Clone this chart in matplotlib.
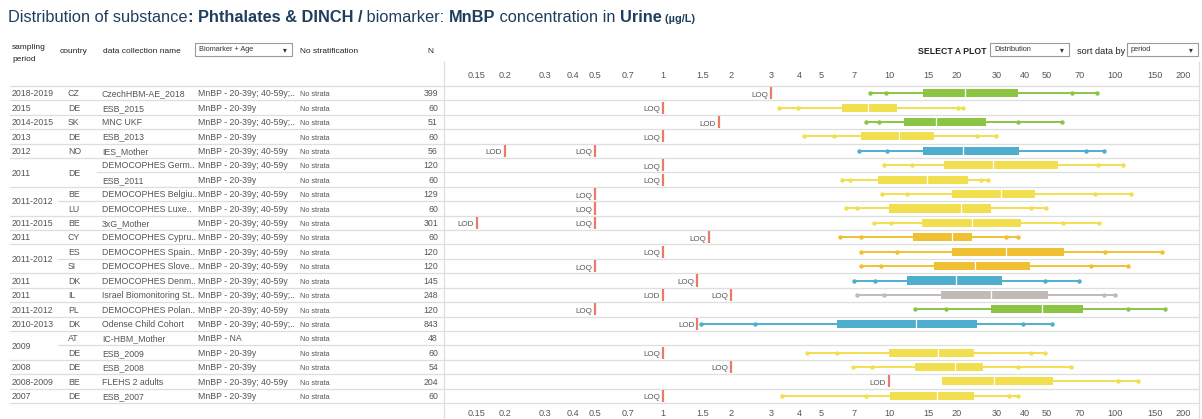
import numpy as np
import matplotlib
matplotlib.use("Agg")
import matplotlib.pyplot as plt
import matplotlib.transforms as mtransforms
from matplotlib.lines import Line2D
from matplotlib.patches import Rectangle
from matplotlib.ticker import NullLocator

# ---------------------------------------------------------------- data
period_groups = ["2018-2019", "2015", "2014-2015", "2013", "2012", "2011", "2011-2012",
                 "2011-2015", "2011", "2011-2012", "2011", "2011", "2011-2012",
                 "2010-2013", "2009", "2008", "2008-2009", "2007"]
period_spans = [1, 1, 1, 1, 1, 2, 2, 1, 1, 2, 1, 1, 1, 1, 2, 1, 1, 1]

country_groups = ["CZ", "DE", "SK", "DE", "NO", "DE", "BE", "LU", "BE", "CY", "ES", "SI",
                  "DK", "IL", "PL", "DK", "AT", "DE", "DE", "BE", "DE"]
country_spans = [1, 1, 1, 1, 1, 2, 1, 1, 1, 1, 1, 1, 1, 1, 1, 1, 1, 1, 1, 1, 1]

collections = ["CzechHBM-AE_2018", "ESB_2015", "MNC UKF", "ESB_2013", "IES_Mother",
               "DEMOCOPHES Germ..", "ESB_2011", "DEMOCOPHES Belgiu..", "DEMOCOPHES Luxe..",
               "3xG_Mother", "DEMOCOPHES Cypru..", "DEMOCOPHES Spain..", "DEMOCOPHES Slove..",
               "DEMOCOPHES Denm..", "Israel Biomonitoring St..", "DEMOCOPHES Polan..",
               "Odense Child Cohort", "IC-HBM_Mother", "ESB_2009", "ESB_2008",
               "FLEHS 2 adults", "ESB_2007"]

biomarker_age = ["MnBP - 20-39y; 40-59y;..", "MnBP - 20-39y", "MnBP - 20-39y; 40-59y;..",
                 "MnBP - 20-39y", "MnBP - 20-39y; 40-59y", "MnBP - 20-39y; 40-59y",
                 "MnBP - 20-39y", "MnBP - 20-39y; 40-59y", "MnBP - 20-39y; 40-59y",
                 "MnBP - 20-39y; 40-59y", "MnBP - 20-39y; 40-59y", "MnBP - 20-39y; 40-59y",
                 "MnBP - 20-39y; 40-59y", "MnBP - 20-39y; 40-59y", "MnBP - 20-39y; 40-59y;..",
                 "MnBP - 20-39y; 40-59y", "MnBP - 20-39y; 40-59y;..", "MnBP - NA",
                 "MnBP - 20-39y", "MnBP - 20-39y", "MnBP - 20-39y; 40-59y", "MnBP - 20-39y"]

strata = ["No strata"] * 22

n_samples = [399, 60, 51, 60, 56, 120, 60, 129, 60, 301, 60, 120, 120, 145, 248, 120,
             843, 48, 60, 54, 204, 60]

# European region of each study (drives the colour)
regions = ["E", "W", "E", "W", "N", "W", "W", "W", "W", "W", "S", "S", "S", "N", "O", "E",
           "N", "W", "W", "W", "W", "W"]

nan = np.nan
p05 = [8.2, 3.26, 7.9, 4.2, 7.4, 9.5, 6.2, 9.3, 6.45, 8.6, 6.1, 7.5, 7.5, 7.0, 7.2, 13.0,
       1.47, nan, 4.35, 6.9, nan, 3.35]
p10 = [9.7, 3.96, 9.0, 5.7, 9.8, 12.7, 6.7, 12.0, 7.2, 10.2, 7.5, 10.8, 9.2, 8.7, 9.5, 17.9,
       2.55, nan, 5.9, 8.4, nan, 7.9]
p25 = [14.2, 6.2, 11.7, 7.5, 14.2, 17.5, 8.9, 19.1, 10.0, 14.0, 12.8, 19.1, 15.8, 12.0, 17.0,
       28.2, 5.9, nan, 10.0, 13.0, 17.1, 10.1]
p50 = [21.8, 8.05, 16.1, 11.1, 21.2, 28.9, 14.8, 31.2, 20.8, 23.2, 19.1, 32.8, 24.1, 19.8,
       28.2, 47.4, 13.2, nan, 16.4, 19.6, 29.2, 16.3]
p75 = [37.3, 10.8, 26.8, 15.9, 37.7, 55.7, 22.4, 44.3, 28.2, 38.3, 23.2, 59.5, 42.1, 31.6,
       50.7, 72.4, 24.4, nan, 23.9, 26.1, 53.3, 23.9]
p90 = [64.7, 20.3, 37.3, 24.4, 74.4, 84.4, 25.5, 81.6, 42.4, 59.1, 33.1, 90.6, 78.0, 49.0,
       89.4, 114.6, 39.3, nan, 42.5, 37.3, 102.8, 34.0]
p95 = [83.0, 21.3, 58.1, 29.9, 89.4, 108.8, 27.3, 117.3, 49.4, 85.0, 37.1, 162.0, 114.6, 69.5,
       100.0, 166.0, 52.8, nan, 49.0, 63.9, 126.8, 37.3]

lod = [nan, nan, 1.77, nan, 0.2, nan, nan, nan, nan, 0.15, nan, nan, nan, nan, 1.0, nan,
       1.42, nan, nan, nan, 10.0, nan]
loq = [3.0, 1.0, nan, 1.0, 0.5, 1.0, 1.0, 0.5, 0.5, 0.5, 1.6, 1.0, 0.5, 1.42, 2.0, 0.5,
       nan, nan, 1.0, 2.0, nan, 1.0]

tick_values = [0.15, 0.2, 0.3, 0.4, 0.5, 0.7, 1, 1.5, 2, 3, 4, 5, 7, 10, 15, 20, 30, 40,
               50, 70, 100, 150, 200]
tick_labels = ["0.15", "0.2", "0.3", "0.4", "0.5", "0.7", "1", "1.5", "2", "3", "4", "5",
               "7", "10", "15", "20", "30", "40", "50", "70", "100", "150", "200"]

# ---------------------------------------------------------------- style
region_colors = {"W": "#f2df4f", "E": "#8cc444", "N": "#4faece", "S": "#efc132",
                 "O": "#c2bab6"}
limit_color = "#ec7a66"
grid_color = "#dedede"
text_color = "#555555"
head_color = "#222222"
title_color = "#1f3d5c"
FONT = ["Liberation Sans", "DejaVu Sans"]
plt.rcParams["font.family"] = FONT

W, H = 1202, 419
fig = plt.figure(figsize=(W / 100, H / 100), dpi=100)
fig.patch.set_facecolor("white")


def fx(px):
    return px / W


def fy(py):
    return 1 - py / H


# ---------------------------------------------------------------- chart axes
ax_l, ax_r, ax_t, ax_b = 444, 1199, 86, 403
ax = fig.add_axes([fx(ax_l), fy(ax_b), (ax_r - ax_l) / W, (ax_b - ax_t) / H])
ax.set_facecolor("none")
ax.set_xscale("log")
ax.set_xlim(0.1074, 235.4)
n_rows = len(collections)
ax.set_ylim(n_rows, 0)
ax.set_xticks(tick_values)
ax.set_xticklabels(tick_labels)
ax.xaxis.set_minor_locator(NullLocator())
ax.set_yticks([])
ax.tick_params(axis="x", length=0, labeltop=True, labelbottom=True, labelsize=6.6,
               colors=text_color, pad=4)
for s in ax.spines.values():
    s.set_visible(False)

box_h = 0.56
lim_h = 0.42
label_shift = mtransforms.offset_copy(ax.transData, fig=fig, x=-3, y=-3.5, units="dots")

for i in range(n_rows):
    y = i + 0.5
    # detection / quantification limits
    for val, lab in ((lod[i], "LOD"), (loq[i], "LOQ")):
        if not np.isnan(val):
            ax.plot([val, val], [y - lim_h, y + lim_h], color=limit_color, lw=1.6,
                    solid_capstyle="butt", zorder=3)
            ax.text(val, y, lab, transform=label_shift, ha="right", va="baseline",
                    fontsize=5.8, color=text_color)
    if np.isnan(p50[i]):
        continue
    col = region_colors[regions[i]]
    lo = p05[i] if not np.isnan(p05[i]) else p25[i]
    ax.plot([lo, p95[i]], [y, y], color=col, lw=1.4, zorder=2, solid_capstyle="butt")
    dots = [v for v in (p05[i], p10[i], p90[i], p95[i]) if not np.isnan(v)]
    ax.plot(dots, [y] * len(dots), "o", color=col, ms=3.2, mec="none", zorder=2)
    ax.barh(y, p75[i] - p25[i], left=p25[i], height=box_h, color=col, lw=0, zorder=4)
    ax.plot([p50[i], p50[i]], [y - box_h / 2, y + box_h / 2], color="white", lw=0.9,
            zorder=5)

# ---------------------------------------------------------------- table grid
row_y = mtransforms.blended_transform_factory(fig.transFigure, ax.transData)
# text baseline sits a few pixels below the row centre
row_text = mtransforms.offset_copy(row_y, fig=fig, x=0, y=-3.2, units="dots")

period_inner = set()
start = 0
for span in period_spans:
    period_inner.update(range(start + 1, start + span))
    start += span
country_inner = set()
start = 0
for span in country_spans:
    country_inner.update(range(start + 1, start + span))
    start += span

for b in range(n_rows + 1):
    x0 = 10
    if b in country_inner:
        x0 = 97
    elif b in period_inner:
        x0 = 58
    fig.add_artist(Line2D([fx(x0), fx(ax_r)], [b, b], transform=row_y, color=grid_color,
                          lw=0.9, zorder=-1))

for xv in (ax_l, ax_r):
    fig.add_artist(Line2D([fx(xv), fx(xv)], [fy(62), 0], color=grid_color, lw=0.9,
                          zorder=-1))

# ---------------------------------------------------------------- table text
tkw = dict(transform=row_text, va="baseline", fontsize=6.3, color=text_color)
start = 0
for label, span in zip(period_groups, period_spans):
    fig.text(fx(12), start + span / 2, label, **tkw)
    start += span
start = 0
for label, span in zip(country_groups, country_spans):
    fig.text(fx(68), start + span / 2, label, **tkw)
    start += span
for i in range(n_rows):
    y = i + 0.5
    fig.text(fx(102), y, collections[i], **tkw)
    fig.text(fx(198), y, biomarker_age[i], **tkw)
    fig.text(fx(300), y, strata[i], transform=row_text, va="baseline", fontsize=5.3,
             color=text_color)
    fig.text(fx(438), y, str(n_samples[i]), transform=row_text, va="baseline",
             ha="right", fontsize=6.3, color=text_color)

# ---------------------------------------------------------------- headers
hkw = dict(va="baseline", fontsize=6.0, color=head_color)
fig.text(fx(12), fy(49), "sampling", **hkw)
fig.text(fx(12), fy(61), "period", **hkw)
fig.text(fx(60), fy(53), "country", **hkw)
fig.text(fx(103), fy(53), "data collection name", **hkw)
fig.text(fx(300), fy(53), "No stratification", **hkw)
fig.text(fx(427), fy(53), "N", **hkw)
fig.text(fx(918), fy(53.5), "SELECT A PLOT", va="baseline", fontsize=6.3,
         color=head_color, fontweight="bold")
fig.text(fx(1077), fy(53.5), "sort data by", va="baseline", fontsize=6.6,
         color=head_color)


def dropdown(x0, x1, label):
    fig.add_artist(Rectangle((fx(x0), fy(56)), fx(x1) - fx(x0), fy(43) - fy(56),
                             transform=fig.transFigure, fc="white", ec="#9a9a9a", lw=0.8))
    fig.text(fx(x0 + 4), fy(51), label, va="baseline", fontsize=5.3, color="#333333")
    fig.text(fx(x1 - 9), fy(50), "\u25be", va="center", fontsize=5.5, color="#333333",
             family=["DejaVu Sans"])


dropdown(195, 292, "Biomarker + Age")
dropdown(990, 1069, "Distribution")
dropdown(1127, 1198, "period")

# ---------------------------------------------------------------- title
title_parts = [("Distribution of substance", "normal", 11.8),
               (": Phthalates & DINCH /", "bold", 11.8),
               (" biomarker: ", "normal", 11.8),
               ("MnBP", "bold", 11.8),
               (" concentration in ", "normal", 11.8),
               ("Urine", "bold", 11.8),
               (" (\u00b5g/L)", "bold", 7.8)]
renderer = fig.canvas.get_renderer()
x_cur = fx(8)
for txt, weight, size in title_parts:
    t = fig.text(x_cur, fy(22.5), txt, fontsize=size, fontweight=weight, color=title_color,
                 va="baseline")
    bb = t.get_window_extent(renderer=renderer)
    x_cur = bb.x1 / W

fig.savefig("out.png", dpi=100, facecolor="white")
